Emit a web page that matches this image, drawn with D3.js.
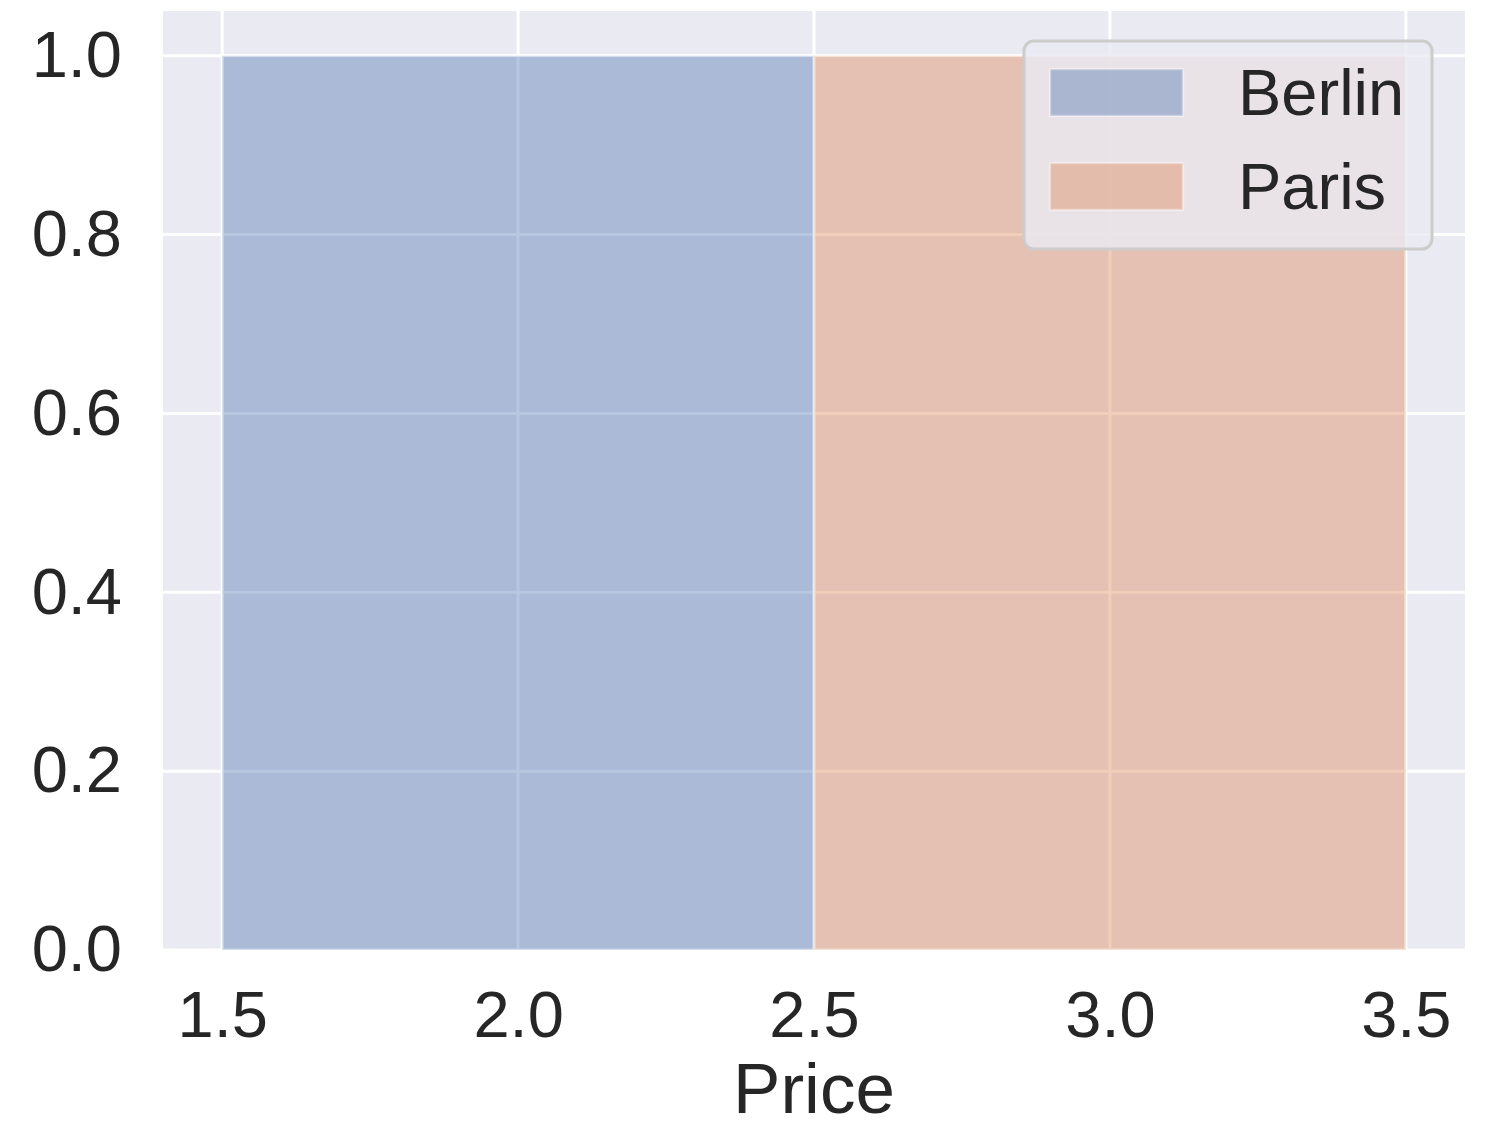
<!DOCTYPE html>
<html><head><meta charset="utf-8">
<script src="https://cdn.jsdelivr.net/npm/d3@7"></script>
<style>body{margin:0;background:#fff}svg{display:block}</style>
</head><body>
<script>
const seriesNames = ["Berlin", "Paris"];
const binStarts = [1.5, 2.5];
const binEnds = [2.5, 3.5];
const counts = [1.0, 1.0];
const seriesColors = ["#4c72b0", "#dd8452"];
const xTicks = [1.5, 2.0, 2.5, 3.0, 3.5];
const yTicks = [0.0, 0.2, 0.4, 0.6, 0.8, 1.0];

const W = 1486, H = 1123;
const m = {left: 163, right: 21, top: 11, bottom: 173};
const svg = d3.select("body").append("svg").attr("width", W).attr("height", H);
const iw = W - m.left - m.right, ih = H - m.top - m.bottom;
const x = d3.scaleLinear().domain([1.4, 3.6]).range([m.left, m.left + iw]);
const y = d3.scaleLinear().domain([0, 1.05]).range([m.top + ih, m.top]);

svg.append("rect").attr("x", m.left).attr("y", m.top).attr("width", iw).attr("height", ih).attr("fill", "#eaeaf2");
const g = svg.append("g");
g.selectAll(".gx").data(xTicks).join("line").attr("x1", d => x(d)).attr("x2", d => x(d))
  .attr("y1", m.top).attr("y2", m.top + ih).attr("stroke", "#fff").attr("stroke-width", 3);
g.selectAll(".gy").data(yTicks).join("line").attr("y1", d => y(d)).attr("y2", d => y(d))
  .attr("x1", m.left).attr("x2", m.left + iw).attr("stroke", "#fff").attr("stroke-width", 3);

const bars = seriesNames.map((n, i) => ({name: n, x0: binStarts[i], x1: binEnds[i], v: counts[i], c: seriesColors[i]}));
svg.selectAll(".bar").data(bars).join("rect")
  .attr("x", d => x(d.x0)).attr("width", d => x(d.x1) - x(d.x0))
  .attr("y", d => y(d.v)).attr("height", d => y(0) - y(d.v))
  .attr("fill", d => d.c).attr("fill-opacity", 0.4)
  .attr("stroke", "#fff").attr("stroke-opacity", 0.4).attr("stroke-width", 2.5);

const font = "'Liberation Sans', Arial, sans-serif";
const xa = svg.append("g").attr("transform", `translate(0,${m.top + ih})`)
  .call(d3.axisBottom(x).tickValues(xTicks).tickFormat(d3.format(".1f")).tickSize(0).tickPadding(41));
xa.select(".domain").remove();
xa.selectAll("text").attr("font-family", font).attr("font-size", 65).attr("fill", "#262626");
const ya = svg.append("g").attr("transform", `translate(${m.left},0)`)
  .call(d3.axisLeft(y).tickValues(yTicks).tickFormat(d3.format(".1f")).tickSize(0).tickPadding(41));
ya.select(".domain").remove();
ya.selectAll("text").attr("font-family", font).attr("font-size", 65).attr("fill", "#262626");

svg.append("text").attr("x", x(2.5)).attr("y", 1113).attr("text-anchor", "middle")
  .attr("font-family", font).attr("font-size", 71).attr("fill", "#262626").text("Price");

// legend
const lg = svg.append("g");
lg.append("rect").attr("x", 1024).attr("y", 41).attr("width", 408).attr("height", 208).attr("rx", 10)
  .attr("fill", "#eaeaf2").attr("fill-opacity", 0.8).attr("stroke", "#cccccc").attr("stroke-width", 3);
bars.forEach((d, i) => {
  const yy = 69 + i * 94;
  lg.append("rect").attr("x", 1050).attr("y", yy).attr("width", 133).attr("height", 47)
    .attr("fill", d.c).attr("fill-opacity", 0.4).attr("stroke", "#fff").attr("stroke-opacity", 0.4).attr("stroke-width", 2.5);
  lg.append("text").attr("x", 1238).attr("y", yy + 46).attr("font-family", font).attr("font-size", 65)
    .attr("fill", "#262626").text(d.name);
});
</script>
</body></html>
